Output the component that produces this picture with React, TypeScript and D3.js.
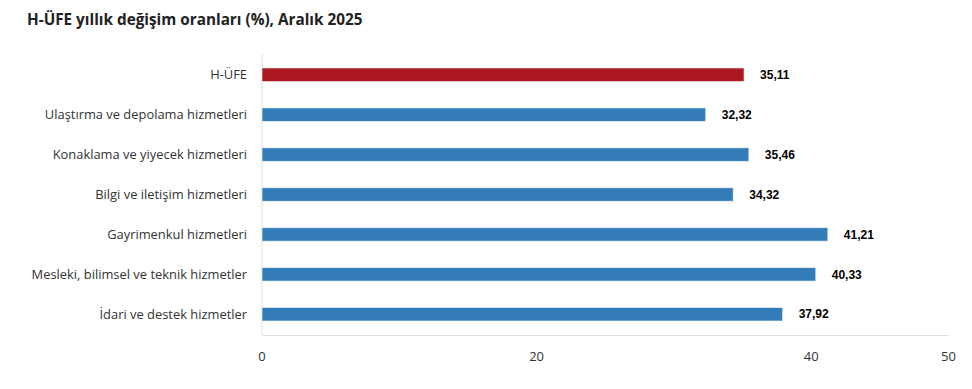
import React from "react";
import * as d3 from "d3";

const categories = [
  "H-ÜFE",
  "Ulaştırma ve depolama hizmetleri",
  "Konaklama ve yiyecek hizmetleri",
  "Bilgi ve iletişim hizmetleri",
  "Gayrimenkul hizmetleri",
  "Mesleki, bilimsel ve teknik hizmetler",
  "İdari ve destek hizmetler",
];
const values = [35.11, 32.32, 35.46, 34.32, 41.21, 40.33, 37.92];
const barColors = ["#AB1820", "#337CB8", "#337CB8", "#337CB8", "#337CB8", "#337CB8", "#337CB8"];
const xTicks = [0, 20, 40, 50];
const title = "H-ÜFE yıllık değişim oranları (%), Aralık 2025";

const W = 972;
const H = 389;
const LEFT = 262;
const RIGHT = 948.5;
const TOP = 54;
const BOTTOM = 335;

const fmt = (v: number) => v.toFixed(2).replace(".", ",");

export default function App() {
  const x = d3.scaleLinear().domain([0, 50]).range([LEFT, RIGHT]);
  const y = d3
    .scaleBand<string>()
    .domain(categories)
    .range([TOP, BOTTOM])
    .paddingInner(0.66)
    .paddingOuter(0.35);
  const bw = y.bandwidth();

  return (
    <svg
      width={W}
      height={H}
      style={{ position: "absolute", left: 0, top: 0, background: "#fff" }}
    >
      <rect x={0} y={0} width={W} height={H} fill="#fff" />
      <text
        x={27}
        y={25}
        fontFamily="'Open Sans', sans-serif"
        fontWeight={700}
        fontSize={15.3}
        fill="#222"
      >
        {title}
      </text>

      {/* category axis line */}
      <line x1={x(0)} x2={x(0)} y1={TOP} y2={BOTTOM} stroke="#e0e0e0" strokeWidth={1} />
      {/* baseline */}
      <line x1={x(0)} x2={RIGHT} y1={BOTTOM + 0.5} y2={BOTTOM + 0.5} stroke="#e0e0e0" strokeWidth={1} />

      {categories.map((c, i) => {
        const yy = y(c)!;
        const cy = yy + bw / 2;
        return (
          <g key={c}>
            <text
              x={247}
              y={cy}
              dy="0.35em"
              textAnchor="end"
              fontFamily="'Open Sans', sans-serif"
              fontSize={12.9}
              fill="#333"
            >
              {c}
            </text>
            <rect
              x={x(0)}
              y={yy}
              width={x(values[i]) - x(0)}
              height={bw}
              fill={barColors[i]}
              stroke="#fff"
              strokeOpacity={0.6}
              strokeWidth={1}
            />
            <text
              x={x(values[i]) + 16}
              y={cy}
              dy="0.35em"
              fontFamily="'Liberation Sans', Arial, sans-serif"
              fontWeight={700}
              fontSize={12}
              fill="#000"
            >
              {fmt(values[i])}
            </text>
          </g>
        );
      })}

      {xTicks.map((t) => (
        <text
          key={t}
          x={x(t)}
          y={356}
          dy="0.35em"
          textAnchor="middle"
          fontFamily="'Open Sans', sans-serif"
          fontSize={13}
          fill="#333"
        >
          {t}
        </text>
      ))}
    </svg>
  );
}
